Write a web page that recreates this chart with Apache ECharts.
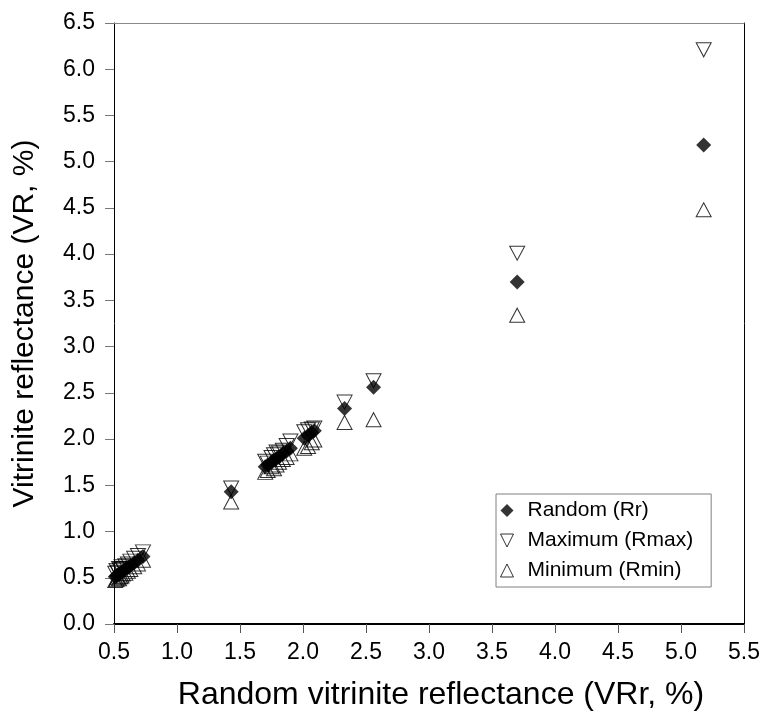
<!DOCTYPE html>
<html>
<head>
<meta charset="utf-8">
<script src="https://cdn.jsdelivr.net/npm/echarts@6/dist/echarts.min.js"></script>
<style>html,body{margin:0;padding:0;background:#fff}#c{width:763px;height:717px}</style>
</head>
<body>
<div id="c"></div>
<script>
// Random vitrinite reflectance (x) and the three measured reflectances
var rr   = [0.51,0.52,0.53,0.54,0.55,0.56,0.57,0.59,0.61,0.63,0.66,0.69,0.73,
            1.43,1.70,1.72,1.75,1.77,1.79,1.81,1.84,1.87,1.90,2.01,2.04,2.07,2.09,
            2.33,2.56,3.70,5.18];
var rmax = [0.55,0.58,0.56,0.60,0.59,0.62,0.60,0.63,0.65,0.68,0.71,0.74,0.78,
            1.47,1.76,1.74,1.80,1.83,1.86,1.85,1.88,1.93,1.98,2.08,2.10,2.11,2.12,
            2.40,2.63,4.01,6.21];
var rmin = [0.47,0.48,0.50,0.49,0.51,0.52,0.54,0.55,0.57,0.59,0.62,0.65,0.69,
            1.32,1.64,1.66,1.70,1.68,1.72,1.75,1.78,1.80,1.84,1.90,1.92,1.96,1.99,
            2.18,2.21,3.34,4.48];
var seriesNames = ['Random (Rr)', 'Maximum (Rmax)', 'Minimum (Rmin)'];
var xTitle = 'Random vitrinite reflectance (VRr, %)';
var yTitle = 'Vitrinite reflectance (VR, %)';

function pairs(ys){ return rr.map(function(x,i){ return [x, ys[i]]; }); }

var FONT = '"Liberation Sans", Arial, sans-serif';
var downTri = 'path://M0,0 L10,0 L5,10 Z';
var upTri = 'path://M5,0 L10,10 L0,10 Z';
var diamond = 'path://M5,0 L10,5 L5,10 L0,5 Z';

var chart = echarts.init(document.getElementById('c'), null, {renderer:'canvas'});
chart.setOption({
  animation: false,
  backgroundColor: '#fff',
  grid: {left:114, right:19, top:23, bottom:93, containLabel:false},
  xAxis: [{
    type:'value', min:0.5, max:5.5, interval:0.5,
    name:xTitle, nameLocation:'middle', nameGap:55,
    nameTextStyle:{fontFamily:FONT, fontSize:32, color:'#000', padding:[0,0,0,24]},
    axisLine:{show:true, onZero:false, lineStyle:{color:'#000', width:2}},
    axisTick:{show:true, inside:false, length:9, lineStyle:{color:'#555'}},
    axisLabel:{fontFamily:FONT, fontSize:23, color:'#000', margin:17,
      formatter:function(v){return v.toFixed(1);}},
    splitLine:{show:false}
  },{
    type:'value', position:'top', min:0.5, max:5.5, interval:0.5,
    axisLine:{show:true, onZero:false, lineStyle:{color:'#888', width:1}},
    axisTick:{show:false}, axisLabel:{show:false}, splitLine:{show:false}
  }],
  yAxis: [{
    type:'value', min:0, max:6.5, interval:0.5,
    name:yTitle, nameLocation:'middle', nameGap:74, nameRotate:90,
    nameTextStyle:{fontFamily:FONT, fontSize:30, color:'#000'},
    axisLine:{show:true, onZero:false, lineStyle:{color:'#000', width:1}},
    axisTick:{show:true, inside:false, length:9, lineStyle:{color:'#777'}},
    axisLabel:{fontFamily:FONT, fontSize:23, color:'#000', margin:19,
      formatter:function(v){return v.toFixed(1);}},
    splitLine:{show:false}
  },{
    type:'value', position:'right', min:0, max:6.5, interval:0.5,
    axisLine:{show:true, onZero:false, lineStyle:{color:'#000', width:1}},
    axisTick:{show:false}, axisLabel:{show:false}, splitLine:{show:false}
  }],
  legend: {
    show:true, orient:'vertical', left:496, top:494,
    backgroundColor:'#fff', borderColor:'#808080', borderWidth:1,
    padding:[6,18,6,4], itemGap:9, itemWidth:13, itemHeight:13,
    textStyle:{fontFamily:FONT, fontSize:21, color:'#000', padding:[0,0,0,9]},
    data:[
      {name:seriesNames[0], icon:diamond, itemStyle:{color:'#000', borderWidth:0}},
      {name:seriesNames[1], icon:downTri, itemStyle:{color:'transparent', borderColor:'#000', borderWidth:1}},
      {name:seriesNames[2], icon:upTri, itemStyle:{color:'transparent', borderColor:'#000', borderWidth:1}}
    ]
  },
  series: [
    {name:seriesNames[1], type:'scatter', data:pairs(rmax), symbol:downTri, symbolSize:[15,14],
     itemStyle:{color:'transparent', borderColor:'#000', borderWidth:1}, z:2},
    {name:seriesNames[2], type:'scatter', data:pairs(rmin), symbol:upTri, symbolSize:[15,14],
     itemStyle:{color:'transparent', borderColor:'#000', borderWidth:1}, z:2},
    {name:seriesNames[0], type:'scatter', data:pairs(rr), symbol:diamond, symbolSize:[15,15],
     itemStyle:{color:'#000', borderWidth:0}, z:3}
  ]
});
</script>
</body>
</html>
